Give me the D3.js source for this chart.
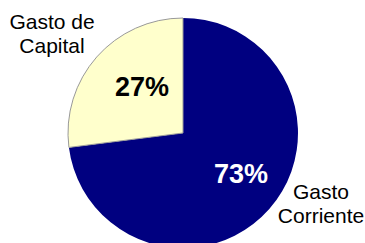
<!DOCTYPE html>
<meta charset="utf-8">
<html lang="es">
<head>
  <script src="https://d3js.org/d3.v7.min.js"></script>
  <style>
    body { margin: 0; background: #fff; }
    text { font-family: "Liberation Sans", Arial, sans-serif; }
  </style>
</head>
<body>
<div id="chart"></div>
<script>
  // data
  var categories = ["Gasto Corriente", "Gasto de Capital"];
  var shares = [73, 27];
  var pctLabels = ["73%", "27%"];
  var sliceColors = ["#000080", "#FFFFCC"];

  var width = 365, height = 243;
  var cx = 183, cy = 133, radius = 115;

  var svg = d3.select("#chart")
    .append("svg")
      .attr("width", width)
      .attr("height", height);

  var g = svg.append("g")
    .attr("transform", "translate(" + cx + "," + cy + ")");

  var pie = d3.pie().sort(null).value(function(d) { return d; });
  var arcs = pie(shares);

  var arc = d3.arc().innerRadius(0).outerRadius(radius);

  g.selectAll("path")
    .data(arcs)
    .enter()
    .append("path")
      .attr("d", arc)
      .attr("fill", function(d, i) { return sliceColors[i]; })
      .attr("stroke", function(d, i) { return i == 1 ? "#999" : "none"; })
      .attr("stroke-width", 1);

  // percent labels inside slices
  var labelArc = d3.arc().innerRadius(radius * 0.52).outerRadius(radius * 0.52);
  var pctPos = [[58, 50], [-41, -37]];
  g.selectAll(".pct")
    .data(arcs)
    .enter()
    .append("text")
      .attr("class", "pct")
      .attr("x", function(d, i) { return pctPos[i][0]; })
      .attr("y", function(d, i) { return pctPos[i][1]; })
      .attr("text-anchor", "middle")
      .style("font-size", "27px")
      .style("font-weight", "bold")
      .style("fill", function(d, i) { return i == 0 ? "#fff" : "#000"; })
      .text(function(d, i) { return pctLabels[i]; });

  // category labels outside
  var catLines = [["Gasto", "Corriente"], ["Gasto de", "Capital"]];
  var catPos = [[321, 199], [52, 28.5]];
  catLines.forEach(function(lines, i) {
    var t = svg.append("text")
      .attr("x", catPos[i][0])
      .attr("y", catPos[i][1])
      .attr("text-anchor", "middle")
      .style("font-size", "21px")
      .style("fill", "#000");
    lines.forEach(function(l, j) {
      t.append("tspan")
        .attr("x", catPos[i][0])
        .attr("dy", j == 0 ? 0 : 24)
        .text(l);
    });
  });
</script>
</body>
</html>
